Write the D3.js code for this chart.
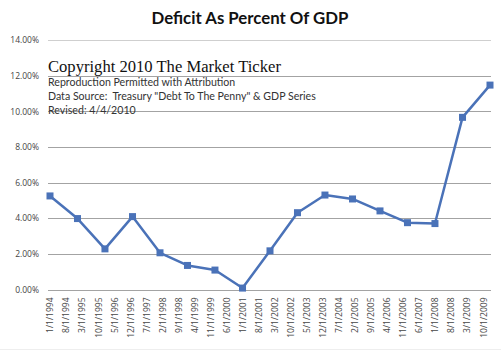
<!DOCTYPE html>
<html>
<head>
<meta charset="utf-8">
<script src="https://cdn.jsdelivr.net/npm/d3@7"></script>
<style>
  html, body { margin: 0; padding: 0; background: #fff; }
  svg { display: block; }
</style>
</head>
<body>
<svg id="chart" width="501" height="355"></svg>
<script>
// ---- data ----
const dates = ["1/1/1994","1/1/1995","1/1/1996","1/1/1997","1/1/1998","1/1/1999","1/1/2000","1/1/2001","1/1/2002","1/1/2003","1/1/2004","1/1/2005","1/1/2006","1/1/2007","1/1/2008","1/1/2009","1/1/2010"];
const deficitPct = [5.25, 3.98, 2.28, 4.09, 2.06, 1.35, 1.09, 0.08, 2.17, 4.31, 5.30, 5.08, 4.41, 3.75, 3.70, 9.66, 11.47];
const xTickLabels = ["1/1/1994","8/1/1994","3/1/1995","10/1/1995","5/1/1996","12/1/1996","7/1/1997","2/1/1998","9/1/1998","4/1/1999","11/1/1999","6/1/2000","1/1/2001","8/1/2001","3/1/2002","10/1/2002","5/1/2003","12/1/2003","7/1/2004","2/1/2005","9/1/2005","4/1/2006","11/1/2006","6/1/2007","1/1/2008","8/1/2008","3/1/2009","10/1/2009"];
const yTicks = [0, 2, 4, 6, 8, 10, 12, 14];
const title = "Deficit As Percent Of GDP";
const noteLines = ["Reproduction Permitted with Attribution", "Data Source:  Treasury \"Debt To The Penny\" & GDP Series", "Revised: 4/4/2010"];
const copyright = "Copyright 2010 The Market Ticker";

// ---- layout ----
const parse = d3.timeParse("%-m/%-d/%Y");
const svg = d3.select("#chart");
const plotLeft = 48, plotRight = 491, plotTop = 40, plotBottom = 289.5;

const x = d3.scaleTime()
  .domain([parse(dates[0]), parse(dates[dates.length - 1])])
  .range([50, 490]);
const y = d3.scaleLinear().domain([0, 14]).range([plotBottom, plotTop]);

const sans = "'Open Sans', 'DejaVu Sans', sans-serif";

// title
svg.append("text")
  .attr("x", 250).attr("y", 24)
  .attr("text-anchor", "middle")
  .style("font-family", "Lato, 'Open Sans', sans-serif")
  .style("font-weight", "bold")
  .style("font-size", "16.8px")
  .attr("fill", "#111")
  .text(title);

// gridlines
svg.append("g").selectAll("line").data(yTicks).join("line")
  .attr("x1", plotLeft).attr("x2", plotRight)
  .attr("y1", d => Math.round(y(d)) + 0.5).attr("y2", d => Math.round(y(d)) + 0.5)
  .attr("stroke", d => d === 14 ? "#cfcfcf" : "#a3a3a3")
  .attr("stroke-width", 1);

// y axis labels
const yAxis = d3.axisLeft(y).tickValues(yTicks).tickSize(0).tickPadding(0)
  .tickFormat(d => d3.format(".2f")(d) + "%");
const gy = svg.append("g").attr("transform", `translate(39,0)`).call(yAxis);
gy.select(".domain").remove();
gy.selectAll("text")
  .style("font-family", sans).style("font-size", "8.5px").attr("fill", "#444");

// x axis labels
const xAxis = d3.axisBottom(x).tickValues(xTickLabels.map(parse)).tickSize(0).tickPadding(0)
  .tickFormat(d3.timeFormat("%-m/%-d/%Y"));
const gx = svg.append("g").attr("transform", `translate(0,${plotBottom + 8})`).call(xAxis);
gx.select(".domain").remove();
gx.selectAll("text")
  .style("font-family", sans).style("font-size", "8.5px").attr("fill", "#444")
  .attr("text-anchor", "end")
  .attr("dy", "0.35em")
  .attr("transform", "rotate(-90)")
  .attr("x", 0).attr("y", 0);

// annotation text
svg.append("text")
  .attr("x", 48).attr("y", 72)
  .style("font-family", "'Liberation Serif', 'Times New Roman', serif")
  .style("font-size", "16.6px")
  .attr("fill", "#111")
  .text(copyright);
svg.append("g").selectAll("text").data(noteLines).join("text")
  .attr("x", 48).attr("y", (d, i) => 86 + i * 14)
  .style("font-family", "Lato, 'Open Sans', sans-serif")
  .style("font-size", "10.6px")
  .style("white-space", "pre")
  .attr("fill", "#333")
  .text(d => d);

// series
const pts = dates.map((d, i) => ({ date: parse(d), v: deficitPct[i] }));
svg.append("path").datum(pts)
  .attr("fill", "none")
  .attr("stroke", "#4a72b8")
  .attr("stroke-width", 2.5)
  .attr("stroke-linejoin", "round")
  .attr("d", d3.line().x(d => x(d.date)).y(d => y(d.v)));
svg.append("g").selectAll("rect").data(pts).join("rect")
  .attr("x", d => x(d.date) - 3.5).attr("y", d => y(d.v) - 3.5)
  .attr("width", 7).attr("height", 7)
  .attr("fill", "#4a72b8");

// faint bottom border
svg.append("line").attr("x1", 0).attr("x2", 501).attr("y1", 349.5).attr("y2", 349.5)
  .attr("stroke", "#eeeeee");
</script>
</body>
</html>
